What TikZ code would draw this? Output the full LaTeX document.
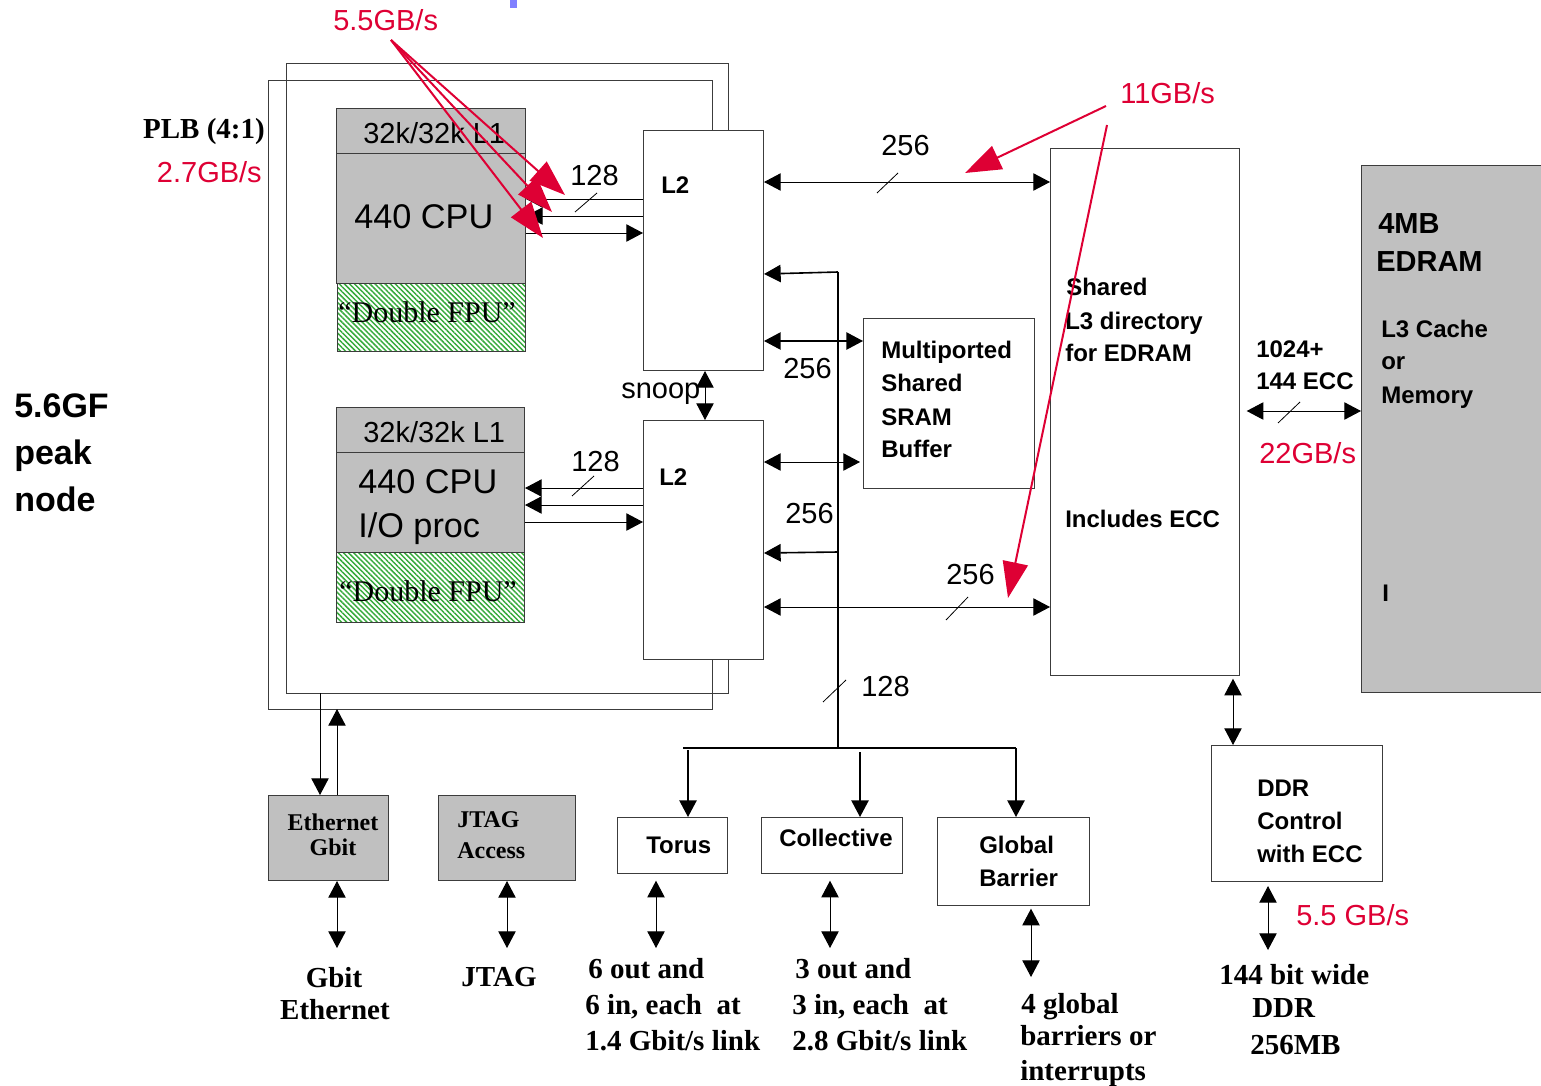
\documentclass[tikz,border=0pt]{standalone}
\usepackage{fontspec}
\setmainfont{Liberation Sans}
\newfontfamily\tnr{Liberation Serif}
\usetikzlibrary{arrows.meta,patterns.meta}
\definecolor{redc}{RGB}{222,0,52}
\definecolor{hatchg}{RGB}{55,170,60}
\definecolor{boxgray}{RGB}{192,192,192}
\definecolor{edgec}{RGB}{60,60,60}
\definecolor{bluec}{RGB}{128,128,255}
\newcommand\bnode[6]{\node[#1,minimum width={(#4-#2)*0.75pt},minimum height={(#5-#3)*0.75pt}] (#6) at (#2,#3) {};}
\begin{document}
\begin{tikzpicture}[x=0.75pt,y=-0.75pt,
  boxs/.style={draw=edgec,line width=0.75pt,inner sep=0pt,anchor=north west},
  gboxs/.style={boxs,fill=boxgray},
  hboxs/.style={boxs,pattern={Lines[angle=-45,distance=2.7pt,line width=1.1pt]},pattern color=hatchg},
  tx/.style={inner sep=0pt,anchor=base west},
  txc/.style={inner sep=0pt,anchor=base},
  txr/.style={inner sep=0pt,anchor=base east},
  fbig/.style={font=\fontsize{21.75}{26}\selectfont},
  fcpu/.style={font=\fontsize{25.7}{30}\selectfont},
  fbs/.style={font=\bfseries\fontsize{18}{22}\selectfont},
  fhs/.style={font=\bfseries\fontsize{21.75}{26}\selectfont},
  fns/.style={font=\bfseries\fontsize{25.5}{30}\selectfont},
  ftb/.style={font=\tnr\bfseries\fontsize{21.75}{26}\selectfont},
  fts/.style={font=\tnr\bfseries\fontsize{18}{22}\selectfont},
  ffpu/.style={font=\tnr\fontsize{22.5}{26}\selectfont},
  rd/.style={text=redc},
  lnk/.style={draw=black,line width=0.75pt},
  onearr/.style={-{Triangle[length=12.5pt,width=13pt]}},
  twoarr/.style={{Triangle[length=12.5pt,width=13pt]}-{Triangle[length=12.5pt,width=13pt]}},
  busln/.style={draw=black,line width=1.6pt},
  slashln/.style={draw=black,line width=0.6pt},
  rarr/.style={draw=redc,line width=1.5pt,-{Triangle[length=27pt,width=19pt]}},
]
\useasboundingbox (0,0) rectangle (1541,1085);
\fill[bluec] (510,0) rectangle (517,8);

% ---------- boxes ----------
\bnode{gboxs}{336}{108}{525}{153}{l1a}
\bnode{gboxs}{336}{153}{525}{283}{cpua}
\bnode{hboxs}{337}{283}{525}{351}{fpua}
\bnode{gboxs}{336}{407}{524}{452}{l1b}
\bnode{gboxs}{336}{452}{524}{552}{cpub}
\bnode{hboxs}{336}{552}{524}{622}{fpub}
\bnode{boxs}{643}{130}{763}{370}{l2a}
\bnode{boxs}{643}{420}{763}{659}{l2b}
\bnode{boxs}{863}{318}{1034}{488}{sram}
\bnode{boxs}{1050}{148}{1239}{675}{l3}
\bnode{gboxs}{1361}{165}{1550}{692}{edram}
\bnode{boxs}{1211}{745}{1382}{881}{ddr}
\bnode{gboxs}{268}{795}{388}{880}{eth}
\bnode{gboxs}{438}{795}{575}{880}{jtag}
\bnode{boxs}{617}{817}{727}{873}{torus}
\bnode{boxs}{761}{817}{902}{873}{coll}
\bnode{boxs}{937}{817}{1089}{905}{gbar}

% ---------- PLB frames ----------
\coordinate (fo1) at (712,80);
\coordinate (fo2) at (268,80);
\coordinate (fo3) at (268,709);
\coordinate (fo4) at (712,709);
\coordinate (fi1) at (728,63);
\coordinate (fi2) at (286,63);
\coordinate (fi3) at (286,693);
\coordinate (fi4) at (728,693);
\draw[edgec,line width=0.75pt] (l2a.north -| fo1) -- (fo1) -- (fo2) -- (fo3) -- (fo4) -- (l2b.south -| fo4);
\draw[edgec,line width=0.75pt] (l2a.north -| fi1) -- (fi1) -- (fi2) -- (fi3) -- (fi4) -- (l2b.south -| fi4);

% ---------- texts in CPU blocks ----------
\node[tx,fbig] (t1a) at (363,143) {32k/32k L1};
\node[tx,fcpu] (t2a) at (354,228) {440 CPU};
\node[tx,ffpu] (t3a) at (338,322) {“Double FPU”};
\node[tx,fbig] (t1b) at (363,442) {32k/32k L1};
\node[tx,fcpu] (t2b) at (358,493) {440 CPU};
\node[tx,fcpu] (t2c) at (358,537) {I/O proc};
\node[tx,ffpu] (t3b) at (339,601) {“Double FPU”};

% ---------- CPU <-> L2 ----------
\draw[lnk,onearr] (l2a.west |- 0,199) -- (cpua.east |- 0,199);
\draw[lnk,onearr] (l2a.west |- 0,216) -- (cpua.east |- 0,216);
\draw[lnk,onearr] (cpua.east |- 0,233) -- (l2a.west |- 0,233);
\draw[slashln] (575,212) -- (597,193);
\node[tx,fbig] (n128a) at (570,185) {128};
\draw[lnk,onearr] (l2b.west |- 0,488) -- (cpub.east |- 0,488);
\draw[lnk,onearr] (l2b.west |- 0,505) -- (cpub.east |- 0,505);
\draw[lnk,onearr] (cpub.east |- 0,522) -- (l2b.west |- 0,522);
\draw[slashln] (572,496) -- (594,476);
\node[tx,fbig] (n128b) at (571,471) {128};

% ---------- L2 labels, snoop ----------
\node[tx,fbs] (l2at) at (661,193) {L2};
\node[tx,fbs] (l2bt) at (659,485) {L2};
\draw[lnk,twoarr] (l2a.south -| 705,0) -- (l2b.north -| 705,0);
\node[tx,fbig] (snoop) at (621,398) {snoop};

% ---------- bus ----------
\coordinate (bt) at (838,272);
\coordinate (bb) at (838,748);
\coordinate (hl) at (683,748);
\coordinate (hr) at (1016,748);
\draw[busln] (bt) -- (bb);
\draw[busln] (hl) -- (hr);
\draw[lnk,line width=1.2pt,onearr] (bt) -- (l2a.east |- 0,274);
\draw[lnk,line width=1.2pt,onearr] (838,552) -- (l2b.east |- 0,553);
\draw[lnk,twoarr,line width=1.1pt] (l2a.east |- 0,341) -- (sram.west |- 0,341);
\draw[lnk,twoarr] (l2b.east |- 0,462) -- (860,462);
\node[tx,fbig] (n256b) at (783,378) {256};
\node[tx,fbig] (n256c) at (785,523) {256};
\draw[slashln] (823,702) -- (846,680);
\node[tx,fbig] (n128c) at (861,696) {128};
\draw[lnk,line width=1.1pt,onearr] (688,750) -- (torus.north -| 688,0);
\draw[lnk,line width=1.1pt,onearr] (860,752) -- (coll.north -| 860,0);
\draw[lnk,line width=1.1pt,onearr] (hr) -- (gbar.north -| hr);

% ---------- L2 <-> L3 ----------
\draw[lnk,twoarr] (l2a.east |- 0,182) -- (l3.west |- 0,182);
\draw[slashln] (877,193) -- (898,173);
\node[tx,fbig] (n256a) at (881,155) {256};
\draw[lnk,twoarr] (l2b.east |- 0,607) -- (l3.west |- 0,607);
\draw[slashln] (946,620) -- (968,597);
\node[tx,fbig] (n256d) at (946,584) {256};

% ---------- SRAM text ----------
\node[tx,fbs] (s1) at (881,358) {Multiported};
\node[tx,fbs] (s2) at (881,391) {Shared};
\node[tx,fbs] (s3) at (881,425) {SRAM};
\node[tx,fbs] (s4) at (881,457) {Buffer};

% ---------- L3 text ----------
\node[tx,fbs] (d1) at (1066,295) {Shared};
\node[tx,fbs] (d2) at (1065,329) {L3 directory};
\node[tx,fbs] (d3) at (1065,361) {for EDRAM};
\node[tx,fbs] (d4) at (1065,527) {Includes ECC};

% ---------- EDRAM ----------
\node[tx,fhs] (e1) at (1378,233) {4MB};
\node[tx,fhs] (e2) at (1376,271) {EDRAM};
\node[tx,fbs] (e3) at (1381,337) {L3 Cache};
\node[tx,fbs] (e4) at (1381,369) {or};
\node[tx,fbs] (e5) at (1381,403) {Memory};
\node[tx,fbs] (e6) at (1382,601) {I};
\node[tx,fbs] (w1) at (1256,357) {1024+};
\node[tx,fbs] (w2) at (1256,389) {144 ECC};
\draw[lnk,twoarr] ([xshift=5pt]l3.east |- 0,411) -- (edram.west |- 0,411);
\draw[slashln] (1278,423) -- (1300,402);
\node[tx,fbig,rd] (r22) at (1259,463) {22GB/s};

% ---------- DDR ----------
\draw[lnk,twoarr] ([yshift=-2pt]l3.south -| 1233,0) -- (ddr.north -| 1233,0);
\node[tx,fbs] (dd1) at (1257,796) {DDR};
\node[tx,fbs] (dd2) at (1257,829) {Control};
\node[tx,fbs] (dd3) at (1257,862) {with ECC};
\coordinate (ddrend) at (1268,950);
\draw[lnk,twoarr] ([yshift=-3pt]ddr.south -| ddrend) -- (ddrend);
\node[tx,fbig,rd] (r55b) at (1296,925) {5.5 GB/s};
\node[tx,ftb] (m1) at (1219,984) {144 bit wide};
\node[tx,ftb] (m2) at (1252,1017) {DDR};
\node[tx,ftb] (m3) at (1250,1054) {256MB};

% ---------- Ethernet / JTAG ----------
\node[txc,fts] (et1) at (333,830) {Ethernet};
\node[txc,fts] (et2) at (333,855) {Gbit};
\node[tx,fts] (jt1) at (457,827) {JTAG};
\node[tx,fts] (jt2) at (457,858) {Access};
\draw[lnk,onearr] (fi3 -| 320,0) -- (eth.north -| 320,0);
\draw[lnk,onearr] (eth.north -| 337,0) -- (fo3 -| 337,0);
\coordinate (ee) at (337,948);
\coordinate (je) at (507,948);
\coordinate (te) at (656,948);
\coordinate (ce) at (830,948);
\coordinate (ge) at (1031,977);
\draw[lnk,twoarr] (eth.south -| ee) -- (ee);
\draw[lnk,twoarr] (jtag.south -| je) -- (je);
\draw[lnk,twoarr] ([yshift=-5pt]torus.south -| te) -- (te);
\draw[lnk,twoarr] ([yshift=-5pt]coll.south -| ce) -- (ce);
\draw[lnk,twoarr] ([yshift=-2pt]gbar.south -| ge) -- (ge);

% ---------- small boxes text ----------
\node[tx,fbs] (tt) at (646,853) {Torus};
\node[tx,fbs] (ct) at (779,846) {Collective};
\node[tx,fbs] (g1) at (979,853) {Global};
\node[tx,fbs] (g2) at (979,886) {Barrier};

% ---------- bottom labels ----------
\node[txc,ftb] (b1) at (334,987) {Gbit};
\node[txc,ftb] (b2) at (335,1019) {Ethernet};
\node[txc,ftb] (b3) at (499,986) {JTAG};
\node[tx,ftb] (b4) at (588,978) {6 out and};
\node[tx,ftb] (b5) at (585,1014) {6 in, each\ \ at};
\node[tx,ftb] (b6) at (585,1050) {1.4 Gbit/s link};
\node[tx,ftb] (b7) at (795,978) {3 out and};
\node[tx,ftb] (b8) at (792,1014) {3 in, each\ \ at};
\node[tx,ftb] (b9) at (792,1050) {2.8 Gbit/s link};
\node[tx,ftb] (b10) at (1021,1013) {4 global};
\node[tx,ftb] (b11) at (1020,1045) {barriers or};
\node[tx,ftb] (b12) at (1020,1080) {interrupts};

% ---------- left labels ----------
\node[txr,ftb] (plb) at (265,138) {PLB (4:1)};
\node[txr,fbig,rd] (r27) at (262,182) {2.7GB/s};
\node[tx,fns] (p1) at (14,417) {5.6GF};
\node[tx,fns] (p2) at (14,464) {peak};
\node[tx,fns] (p3) at (14,511) {node};

% ---------- red annotations ----------
\node[tx,fbig,rd] (r55) at (333,30) {5.5GB/s};
\coordinate (s55) at (391,40);
\coordinate (a1) at (565,195);
\coordinate (a2) at (552,212);
\coordinate (a3) at (543,238);
\draw[rarr] (s55) -- (a1);
\draw[rarr] (s55) -- (a2);
\draw[rarr] (s55) -- (a3);
\node[tx,fbig,rd] (r11) at (1120,103) {11GB/s};
\coordinate (s11a) at (1106,106);
\coordinate (s11b) at (1107,125);
\coordinate (a4) at (965,173);
\coordinate (a5) at (1008,598);
\draw[rarr] (s11a) -- (a4);
\draw[rarr] (s11b) -- (a5);
\end{tikzpicture}
\end{document}
